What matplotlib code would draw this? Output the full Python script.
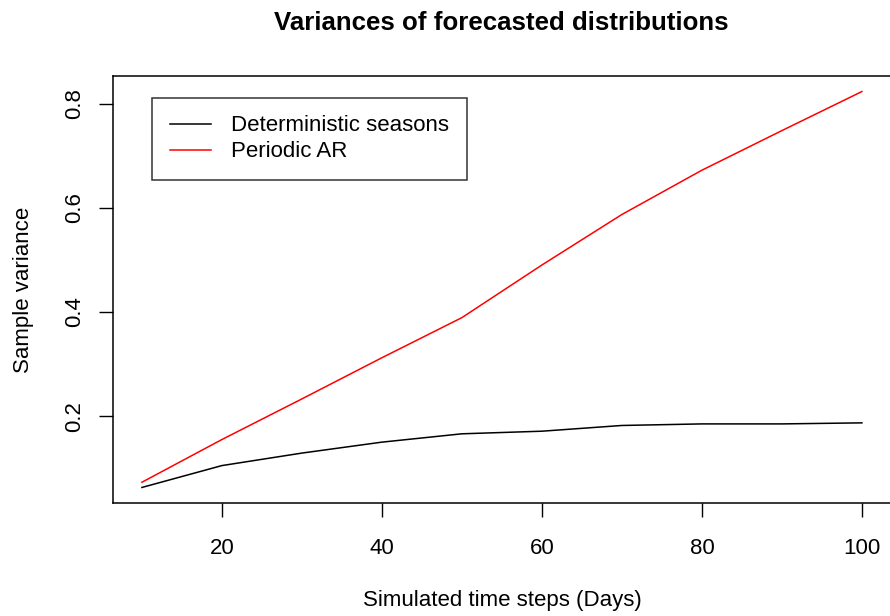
import matplotlib.pyplot as plt

plt.rcParams['font.family'] = ['Liberation Sans', 'DejaVu Sans']

days = [10, 20, 30, 40, 50, 60, 70, 80, 90, 100]
var_det = [0.063, 0.105, 0.129, 0.150, 0.166, 0.171, 0.182, 0.185, 0.185, 0.187]
var_par = [0.073, 0.155, 0.233, 0.312, 0.389, 0.490, 0.587, 0.672, 0.748, 0.823]

W, H = 890, 616
fig = plt.figure(figsize=(W / 100, H / 100), dpi=100)
# plot region in pixels (right edge falls just outside the image, as in the original)
left, right, top, bottom = 113.1, 890.7, 75.7, 503.3
ax = fig.add_axes([left / W, 1 - bottom / H, (right - left) / W, (bottom - top) / H])

ax.plot(days, var_det, color='black', lw=1.1, label='Deterministic seasons')
ax.plot(days, var_par, color='red', lw=1.1, label='Periodic AR')

# R style axis ranges (4% padding)
xr = max(days) - min(days)
ax.set_xlim(min(days) - 0.04 * xr, max(days) + 0.04 * xr)
lo = min(var_det + var_par)
hi = max(var_det + var_par)
yr = hi - lo
ax.set_ylim(lo - 0.04 * yr, hi + 0.04 * yr)

ax.set_xticks([20, 40, 60, 80, 100])
ax.set_yticks([0.2, 0.4, 0.6, 0.8])
ax.set_yticklabels(['0.2', '0.4', '0.6', '0.8'], rotation=90, va='center')
ax.tick_params(direction='out', length=10, width=1, labelsize=16, colors='black')
ax.tick_params(axis='x', pad=15)
ax.tick_params(axis='y', pad=10)
for s in ax.spines.values():
    s.set_linewidth(1.1)

ax.set_xlabel('Simulated time steps (Days)', fontsize=16, labelpad=22)
ax.set_ylabel('Sample variance', fontsize=16, labelpad=22)
fig.text(501.5 / W, 1 - 23 / H, 'Variances of forecasted distributions',
         ha='center', va='center', fontsize=18.6, fontweight='bold')

leg = ax.legend(loc='upper left', bbox_to_anchor=((152.3 - left) / (right - left), 1 - (97.7 - top) / (bottom - top)),
                fontsize=16, frameon=True, fancybox=False, handlelength=1.85, handletextpad=0.9,
                borderpad=0.8, labelspacing=0.22, borderaxespad=0)
leg.get_frame().set_edgecolor('black')
leg.get_frame().set_linewidth(1.1)

fig.savefig('out.png', dpi=100)
